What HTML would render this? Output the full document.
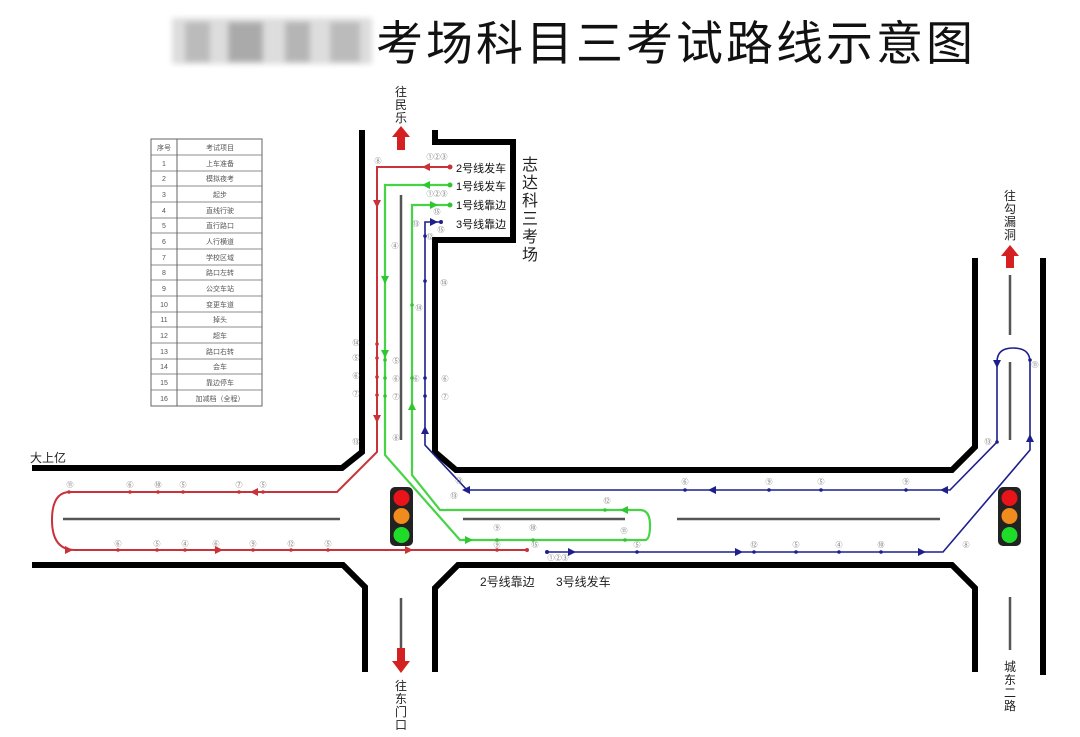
<!DOCTYPE html>
<html><head><meta charset="utf-8"><style>
body{margin:0;background:#fff;width:1080px;height:737px;overflow:hidden;font-family:"Liberation Sans","Noto Sans CJK SC",sans-serif}
svg{position:absolute;left:0;top:0}
.c{font-size:7px;fill:#777;text-anchor:middle}
.t{font-size:7px;fill:#555;text-anchor:middle}
</style></head><body>
<svg width="1080" height="737" viewBox="0 0 1080 737">
<defs>
<filter id="bl"><feGaussianBlur stdDeviation="3"/></filter>
</defs>
<!-- title -->
<g filter="url(#bl)">
<rect x="172" y="18" width="200" height="46" fill="#ddd"/>
<rect x="185" y="22" width="25" height="40" fill="#bbb"/><rect x="228" y="22" width="35" height="40" fill="#aaa"/><rect x="285" y="22" width="25" height="40" fill="#b5b5b5"/><rect x="330" y="22" width="30" height="40" fill="#bbb"/>
</g>
<text x="376" y="60" font-size="47" letter-spacing="3" fill="#111">考场科目三考试路线示意图</text>
<!-- table -->
<g stroke="#666" stroke-width="1" fill="none">
<rect x="151" y="139" width="111" height="267"/>
<line x1="177" y1="139" x2="177" y2="406"/>
</g>
<g stroke="#666" stroke-width="0.8">
<line x1="151" y1="155" x2="262" y2="155"/><line x1="151" y1="171" x2="262" y2="171"/><line x1="151" y1="186" x2="262" y2="186"/><line x1="151" y1="202" x2="262" y2="202"/><line x1="151" y1="218" x2="262" y2="218"/><line x1="151" y1="233" x2="262" y2="233"/><line x1="151" y1="249" x2="262" y2="249"/><line x1="151" y1="265" x2="262" y2="265"/><line x1="151" y1="280" x2="262" y2="280"/><line x1="151" y1="296" x2="262" y2="296"/><line x1="151" y1="312" x2="262" y2="312"/><line x1="151" y1="327" x2="262" y2="327"/><line x1="151" y1="343" x2="262" y2="343"/><line x1="151" y1="359" x2="262" y2="359"/><line x1="151" y1="374" x2="262" y2="374"/><line x1="151" y1="390" x2="262" y2="390"/>
</g>
<g>
<text x="164" y="150" class="t">序号</text><text x="220" y="150" class="t">考试项目</text>
<text x="164" y="166" class="t">1</text><text x="220" y="166" class="t">上车准备</text>
<text x="164" y="181" class="t">2</text><text x="220" y="181" class="t">模拟夜考</text>
<text x="164" y="197" class="t">3</text><text x="220" y="197" class="t">起步</text>
<text x="164" y="213" class="t">4</text><text x="220" y="213" class="t">直线行驶</text>
<text x="164" y="228" class="t">5</text><text x="220" y="228" class="t">直行路口</text>
<text x="164" y="244" class="t">6</text><text x="220" y="244" class="t">人行横道</text>
<text x="164" y="260" class="t">7</text><text x="220" y="260" class="t">学校区域</text>
<text x="164" y="275" class="t">8</text><text x="220" y="275" class="t">路口左转</text>
<text x="164" y="291" class="t">9</text><text x="220" y="291" class="t">公交车站</text>
<text x="164" y="307" class="t">10</text><text x="220" y="307" class="t">变更车道</text>
<text x="164" y="322" class="t">11</text><text x="220" y="322" class="t">掉头</text>
<text x="164" y="338" class="t">12</text><text x="220" y="338" class="t">超车</text>
<text x="164" y="354" class="t">13</text><text x="220" y="354" class="t">路口右转</text>
<text x="164" y="369" class="t">14</text><text x="220" y="369" class="t">会车</text>
<text x="164" y="385" class="t">15</text><text x="220" y="385" class="t">靠边停车</text>
<text x="164" y="401" class="t">16</text><text x="220" y="401" class="t">加减档（全程）</text>
</g>
<!-- roads -->
<g stroke="#000" stroke-width="6" fill="none">
<path d="M362,130V452L342,468H32"/>
<path d="M435,130V142H513V240H435V452L456,470H952L975,447V258"/>
<path d="M1043,258V675"/>
<path d="M32,565H343L365,587V672"/>
<path d="M435,672V588L458,565H952L975,588V672"/>
</g>
<g stroke="#555" stroke-width="2.5">
<line x1="401" y1="195" x2="401" y2="440"/><line x1="401" y1="598" x2="401" y2="650"/>
<line x1="63" y1="519" x2="340" y2="519"/><line x1="463" y1="519" x2="625" y2="519"/><line x1="677" y1="519" x2="940" y2="519"/>
<line x1="1010" y1="275" x2="1010" y2="335"/><line x1="1010" y1="362" x2="1010" y2="440"/><line x1="1010" y1="597" x2="1010" y2="650"/>
</g>
<!-- traffic lights -->
<rect x="390" y="487" width="23" height="59" rx="5" fill="#222"/>
<circle cx="401.5" cy="498" r="8" fill="#e8141a"/><circle cx="401.5" cy="516" r="8" fill="#f08c1e"/><circle cx="401.5" cy="535" r="8" fill="#1edc28"/>
<rect x="998" y="487" width="23" height="59" rx="5" fill="#222"/>
<circle cx="1009.5" cy="498" r="8" fill="#e8141a"/><circle cx="1009.5" cy="516" r="8" fill="#f08c1e"/><circle cx="1009.5" cy="535" r="8" fill="#1edc28"/>
<!-- direction arrows -->
<g fill="#d42020">
<path d="M397,150V137H392L401,126L410,137H405V150z"/>
<path d="M1006,268V256H1001L1010,245L1019,256H1014V268z"/>
<path d="M397,648V661H392L401,673L410,661H405V648z"/>
</g>
<g font-size="12" fill="#222" text-anchor="middle">
<text x="401" y="96">往</text><text x="401" y="109">民</text><text x="401" y="122">乐</text>
<text x="1010" y="200">往</text><text x="1010" y="213">勾</text><text x="1010" y="226">漏</text><text x="1010" y="239">洞</text>
<text x="401" y="690">往</text><text x="401" y="703">东</text><text x="401" y="716">门</text><text x="401" y="729">口</text>
<text x="1010" y="671">城</text><text x="1010" y="684">东</text><text x="1010" y="697">二</text><text x="1010" y="710">路</text>
</g>
<text x="30" y="462" font-size="12" fill="#222">大上亿</text>
<g font-size="16" fill="#222" text-anchor="middle">
<text x="530" y="170">志</text><text x="530" y="188">达</text><text x="530" y="206">科</text><text x="530" y="224">三</text><text x="530" y="242">考</text><text x="530" y="260">场</text>
</g>
<g font-size="11" fill="#111">
<text x="456" y="172">2号线发车</text><text x="456" y="190">1号线发车</text><text x="456" y="209">1号线靠边</text><text x="456" y="228">3号线靠边</text>
</g>
<g font-size="12" fill="#222"><text x="480" y="586">2号线靠边</text><text x="556" y="586">3号线发车</text></g>
<!-- red route -->
<g stroke="#c83238" stroke-width="2" fill="none">
<path d="M450,167H377V452L337,492H70Q52,492 52,520Q52,550 75,550H527"/>
</g>
<g fill="#c83238">
<path d="M430,163L422,167L430,171z"/><path d="M373,200L377,208L381,200z"/><path d="M373,415L377,423L381,415z"/>
<path d="M258,488L250,492L258,496z"/><path d="M65,546L73,550L65,554z"/><path d="M215,546L223,550L215,554z"/><path d="M405,546L413,550L405,554z"/>
<circle cx="450" cy="167" r="2.5"/><circle cx="527" cy="550" r="2"/>
</g>
<!-- green route -->
<g stroke="#3cd23c" stroke-width="2.2" fill="none" opacity="0.95">
<path d="M450,185H385V455L460,540H645Q650,540 650,525Q650,510 640,510H440L412,475V205H450"/>
</g>
<g fill="#2ec82e">
<path d="M430,181L422,185L430,189z"/><path d="M381,276L385,284L389,276z"/><path d="M381,350L385,358L389,350z"/>
<path d="M465,536L473,540L465,544z"/><path d="M628,506L620,510L628,514z"/><path d="M408,410L412,402L416,410z"/><path d="M430,201L438,205L430,209z"/>
<circle cx="450" cy="185" r="2.5"/><circle cx="450" cy="205" r="2.5"/>
</g>
<!-- blue route -->
<g stroke="#1e1e8c" stroke-width="1.6" fill="none">
<path d="M547,552H943L1030,450V362Q1030,348 1013,348Q997,348 997,362V442L950,490H467L425,445V222H440"/>
</g>
<g fill="#1e1e8c">
<path d="M568,548L576,552L568,556z"/><path d="M735,548L743,552L735,556z"/><path d="M918,548L926,552L918,556z"/>
<path d="M1026,442L1030,434L1034,442z"/><path d="M993,360L997,368L1001,360z"/>
<path d="M948,486L940,490L948,494z"/><path d="M716,486L708,490L716,494z"/><path d="M470,486L462,490L470,494z"/>
<path d="M421,434L425,426L429,434z"/><path d="M430,218L438,222L430,226z"/>
<circle cx="547" cy="552" r="2"/><circle cx="441" cy="222" r="2"/>
</g>
<!-- dots on routes -->
<g fill="#c83238">
<circle cx="377" cy="344" r="1.8"/><circle cx="377" cy="358" r="1.8"/><circle cx="377" cy="377" r="1.8"/><circle cx="377" cy="395" r="1.8"/>
<circle cx="69" cy="492" r="1.8"/><circle cx="130" cy="492" r="1.8"/><circle cx="158" cy="492" r="1.8"/><circle cx="183" cy="492" r="1.8"/><circle cx="239" cy="492" r="1.8"/><circle cx="263" cy="492" r="1.8"/>
<circle cx="118" cy="550" r="1.8"/><circle cx="157" cy="550" r="1.8"/><circle cx="185" cy="550" r="1.8"/><circle cx="216" cy="550" r="1.8"/><circle cx="253" cy="550" r="1.8"/><circle cx="291" cy="550" r="1.8"/><circle cx="328" cy="550" r="1.8"/><circle cx="497" cy="550" r="1.8"/>
</g>
<g fill="#2ec82e">
<circle cx="385" cy="360" r="1.8"/><circle cx="385" cy="378" r="1.8"/><circle cx="385" cy="396" r="1.8"/><circle cx="412" cy="305" r="1.8"/><circle cx="412" cy="378" r="1.8"/>
<circle cx="497" cy="540" r="1.8"/><circle cx="533" cy="540" r="1.8"/><circle cx="625" cy="540" r="1.8"/><circle cx="605" cy="510" r="1.8"/>
</g>
<g fill="#1e1e8c">
<circle cx="425" cy="281" r="1.8"/><circle cx="425" cy="378" r="1.8"/><circle cx="425" cy="396" r="1.8"/><circle cx="425" cy="236" r="1.8"/>
<circle cx="637" cy="552" r="1.8"/><circle cx="754" cy="552" r="1.8"/><circle cx="796" cy="552" r="1.8"/><circle cx="839" cy="552" r="1.8"/><circle cx="881" cy="552" r="1.8"/>
<circle cx="685" cy="490" r="1.8"/><circle cx="769" cy="490" r="1.8"/><circle cx="821" cy="490" r="1.8"/><circle cx="906" cy="490" r="1.8"/><circle cx="1030" cy="360" r="1.8"/><circle cx="997" cy="442" r="1.8"/>
</g>
<!-- circled numbers -->
<g>
<text x="378" y="163" class="c">⑧</text><text x="437" y="159" class="c">①②③</text><text x="437" y="196" class="c">①②③</text>
<text x="395" y="248" class="c">④</text><text x="416" y="226" class="c">⑬</text><text x="437" y="214" class="c">⑮</text><text x="441" y="232" class="c">⑮</text><text x="430" y="239" class="c">⑫</text>
<text x="444" y="285" class="c">⑭</text><text x="419" y="310" class="c">⑭</text>
<text x="356" y="345" class="c">⑭</text><text x="356" y="360" class="c">⑤</text><text x="356" y="378" class="c">⑥</text><text x="356" y="396" class="c">⑦</text><text x="356" y="444" class="c">⑬</text>
<text x="396" y="363" class="c">⑤</text><text x="396" y="381" class="c">⑥</text><text x="396" y="399" class="c">⑦</text><text x="416" y="381" class="c">⑥</text><text x="445" y="381" class="c">⑥</text><text x="445" y="399" class="c">⑦</text><text x="396" y="440" class="c">⑧</text>
<text x="70" y="487" class="c">⑪</text><text x="130" y="487" class="c">⑥</text><text x="158" y="487" class="c">⑩</text><text x="183" y="487" class="c">⑤</text><text x="239" y="487" class="c">⑦</text><text x="263" y="487" class="c">⑤</text>
<text x="118" y="546" class="c">⑥</text><text x="157" y="546" class="c">⑤</text><text x="185" y="546" class="c">④</text><text x="216" y="546" class="c">⑥</text><text x="253" y="546" class="c">⑨</text><text x="291" y="546" class="c">⑫</text><text x="328" y="546" class="c">⑤</text>
<text x="459" y="483" class="c">⑬</text><text x="454" y="498" class="c">⑬</text><text x="607" y="503" class="c">⑫</text>
<text x="497" y="530" class="c">⑨</text><text x="533" y="530" class="c">⑩</text><text x="624" y="533" class="c">⑪</text><text x="497" y="547" class="c">⑨</text><text x="535" y="547" class="c">⑮</text><text x="558" y="560" class="c">①②③</text>
<text x="637" y="547" class="c">⑤</text><text x="754" y="547" class="c">⑫</text><text x="796" y="547" class="c">⑤</text><text x="839" y="547" class="c">④</text><text x="881" y="547" class="c">⑩</text><text x="966" y="547" class="c">⑧</text>
<text x="685" y="484" class="c">⑥</text><text x="769" y="484" class="c">⑨</text><text x="821" y="484" class="c">⑤</text><text x="906" y="484" class="c">⑨</text>
<text x="988" y="444" class="c">⑬</text><text x="1035" y="367" class="c">⑪</text>
</g>
</svg>
</body></html>
